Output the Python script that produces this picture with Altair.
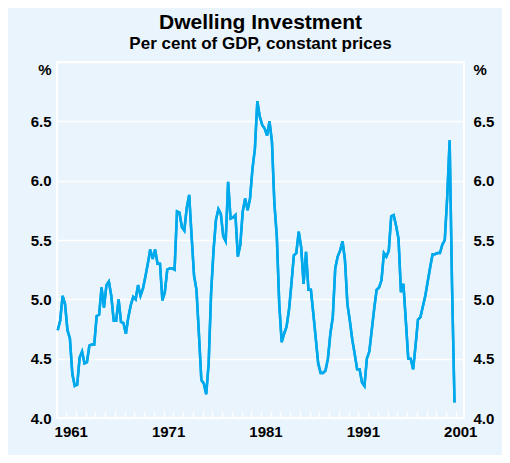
import altair as alt
import pandas as pd

title_text = "Dwelling Investment"
subtitle_text = "Per cent of GDP, constant prices"

# Quarterly series, first observation 1960 Q1, last 2000 Q4 (per cent of GDP)
first_year = 1960
values = [
    4.74, 4.82, 5.03, 4.96, 4.74, 4.67, 4.37, 4.27, 4.28, 4.51,
    4.56, 4.46, 4.47, 4.61, 4.62, 4.62, 4.86, 4.87, 5.10, 4.93,
    5.12, 5.15, 5.03, 4.82, 4.82, 5.00, 4.81, 4.80, 4.71, 4.85,
    4.95, 5.02, 5.00, 5.12, 5.03, 5.09, 5.19, 5.30, 5.42, 5.34,
    5.42, 5.30, 5.30, 4.99, 5.06, 5.25, 5.26, 5.26, 5.25, 5.74,
    5.73, 5.61, 5.58, 5.77, 5.88, 5.53, 5.20, 5.08, 4.71, 4.32,
    4.29, 4.20, 4.46, 5.05, 5.41, 5.67, 5.76, 5.72, 5.53, 5.49,
    5.99, 5.68, 5.69, 5.71, 5.36, 5.46, 5.74, 5.85, 5.75, 5.85,
    6.10, 6.27, 6.67, 6.54, 6.47, 6.44, 6.38, 6.50, 6.33, 5.81,
    5.53, 4.96, 4.64, 4.71, 4.77, 4.91, 5.13, 5.37, 5.39, 5.57,
    5.44, 5.13, 5.40, 5.08, 5.08, 4.88, 4.67, 4.46, 4.38, 4.38,
    4.40, 4.50, 4.71, 4.85, 5.26, 5.36, 5.41, 5.49, 5.33, 4.96,
    4.82, 4.66, 4.54, 4.41, 4.41, 4.30, 4.27, 4.50, 4.56, 4.74,
    4.92, 5.08, 5.10, 5.16, 5.39, 5.36, 5.41, 5.70, 5.71, 5.62,
    5.51, 5.06, 5.13, 4.82, 4.50, 4.50, 4.41, 4.61, 4.83, 4.85,
    4.94, 5.03, 5.15, 5.27, 5.38, 5.38, 5.39, 5.39, 5.46, 5.50,
    5.86, 6.34, 5.10, 4.13,
]

x_tick_years = list(range(1961, 2002))
y_ticks = [4.0, 4.5, 5.0, 5.5, 6.0, 6.5, 7.0]

df = pd.DataFrame({
    "t": [first_year + 0.125 + 0.25 * i for i in range(len(values))],
    "v": values,
})

BG = "#EAF4FC"
LINE = "#00A9EC"
FONT = "Liberation Sans"

x_enc = alt.X(
    "t:Q",
    scale=alt.Scale(domain=[1960.05, 2001.85], nice=False, zero=False),
    axis=alt.Axis(
        values=x_tick_years,
        title=None,
        grid=False,
        domain=False,
        ticks=True,
        tickColor="white",
        tickWidth=1.5,
        tickSize=7,
        offset=-7,
        labelPadding=6,
        labelOffset=4.5,
        labelExpr="(datum.value - 1961) % 10 == 0 ? '' + datum.value : ''",
        labelOverlap=False,
        labelFlush=False,
        labelFontSize=15,
        labelFontWeight="bold",
        labelColor="black",
        labelFont=FONT,
    ),
)

label_expr_y = "datum.value == 7 ? '%' : format(datum.value, '.1f')"
pct_offset = {"condition": {"test": "datum.value == 7", "value": 7}, "value": 0}

y_left = alt.Y(
    "v:Q",
    scale=alt.Scale(domain=[4, 7], nice=False, zero=False),
    axis=alt.Axis(
        values=y_ticks,
        orient="left",
        title=None,
        grid=True,
        gridColor="white",
        gridWidth=1.5,
        domain=False,
        ticks=False,
        labelPadding=6,
        labelExpr=label_expr_y,
        labelOffset=pct_offset,
        labelFontSize=15,
        labelFontWeight="bold",
        labelColor="black",
        labelFont=FONT,
    ),
)

y_right = alt.Y(
    "v:Q",
    scale=alt.Scale(domain=[4, 7], nice=False, zero=False),
    axis=alt.Axis(
        values=y_ticks,
        orient="right",
        title=None,
        grid=False,
        domain=False,
        ticks=False,
        labelPadding=9,
        labelExpr=label_expr_y,
        labelOffset=pct_offset,
        labelFontSize=15,
        labelFontWeight="bold",
        labelColor="black",
        labelFont=FONT,
    ),
)

line_left = alt.Chart(df).mark_line(color=LINE, strokeWidth=2.5).encode(x=x_enc, y=y_left)
line_right = alt.Chart(df).mark_line(color=LINE, strokeWidth=2.5).encode(x=x_enc, y=y_right)

chart = (
    alt.layer(line_left, line_right)
    .resolve_axis(y="independent")
    .properties(
        width=407,
        height=356,
        title=alt.TitleParams(
            text=title_text,
            subtitle=subtitle_text,
            font=FONT,
            subtitleFont=FONT,
            fontSize=21,
            subtitleFontSize=17,
            fontWeight="bold",
            subtitleFontWeight="bold",
            color="black",
            subtitleColor="black",
            anchor="middle",
            offset=10,
            subtitlePadding=3,
        ),
        autosize=alt.AutoSizeParams(type="none"),
        padding={"left": 49, "top": 54, "right": 38, "bottom": 37},
        background=BG,
    )
    .configure_view(stroke="white", strokeWidth=2)
)

chart.save("out.html", embed_options={"renderer": "svg", "actions": False})
